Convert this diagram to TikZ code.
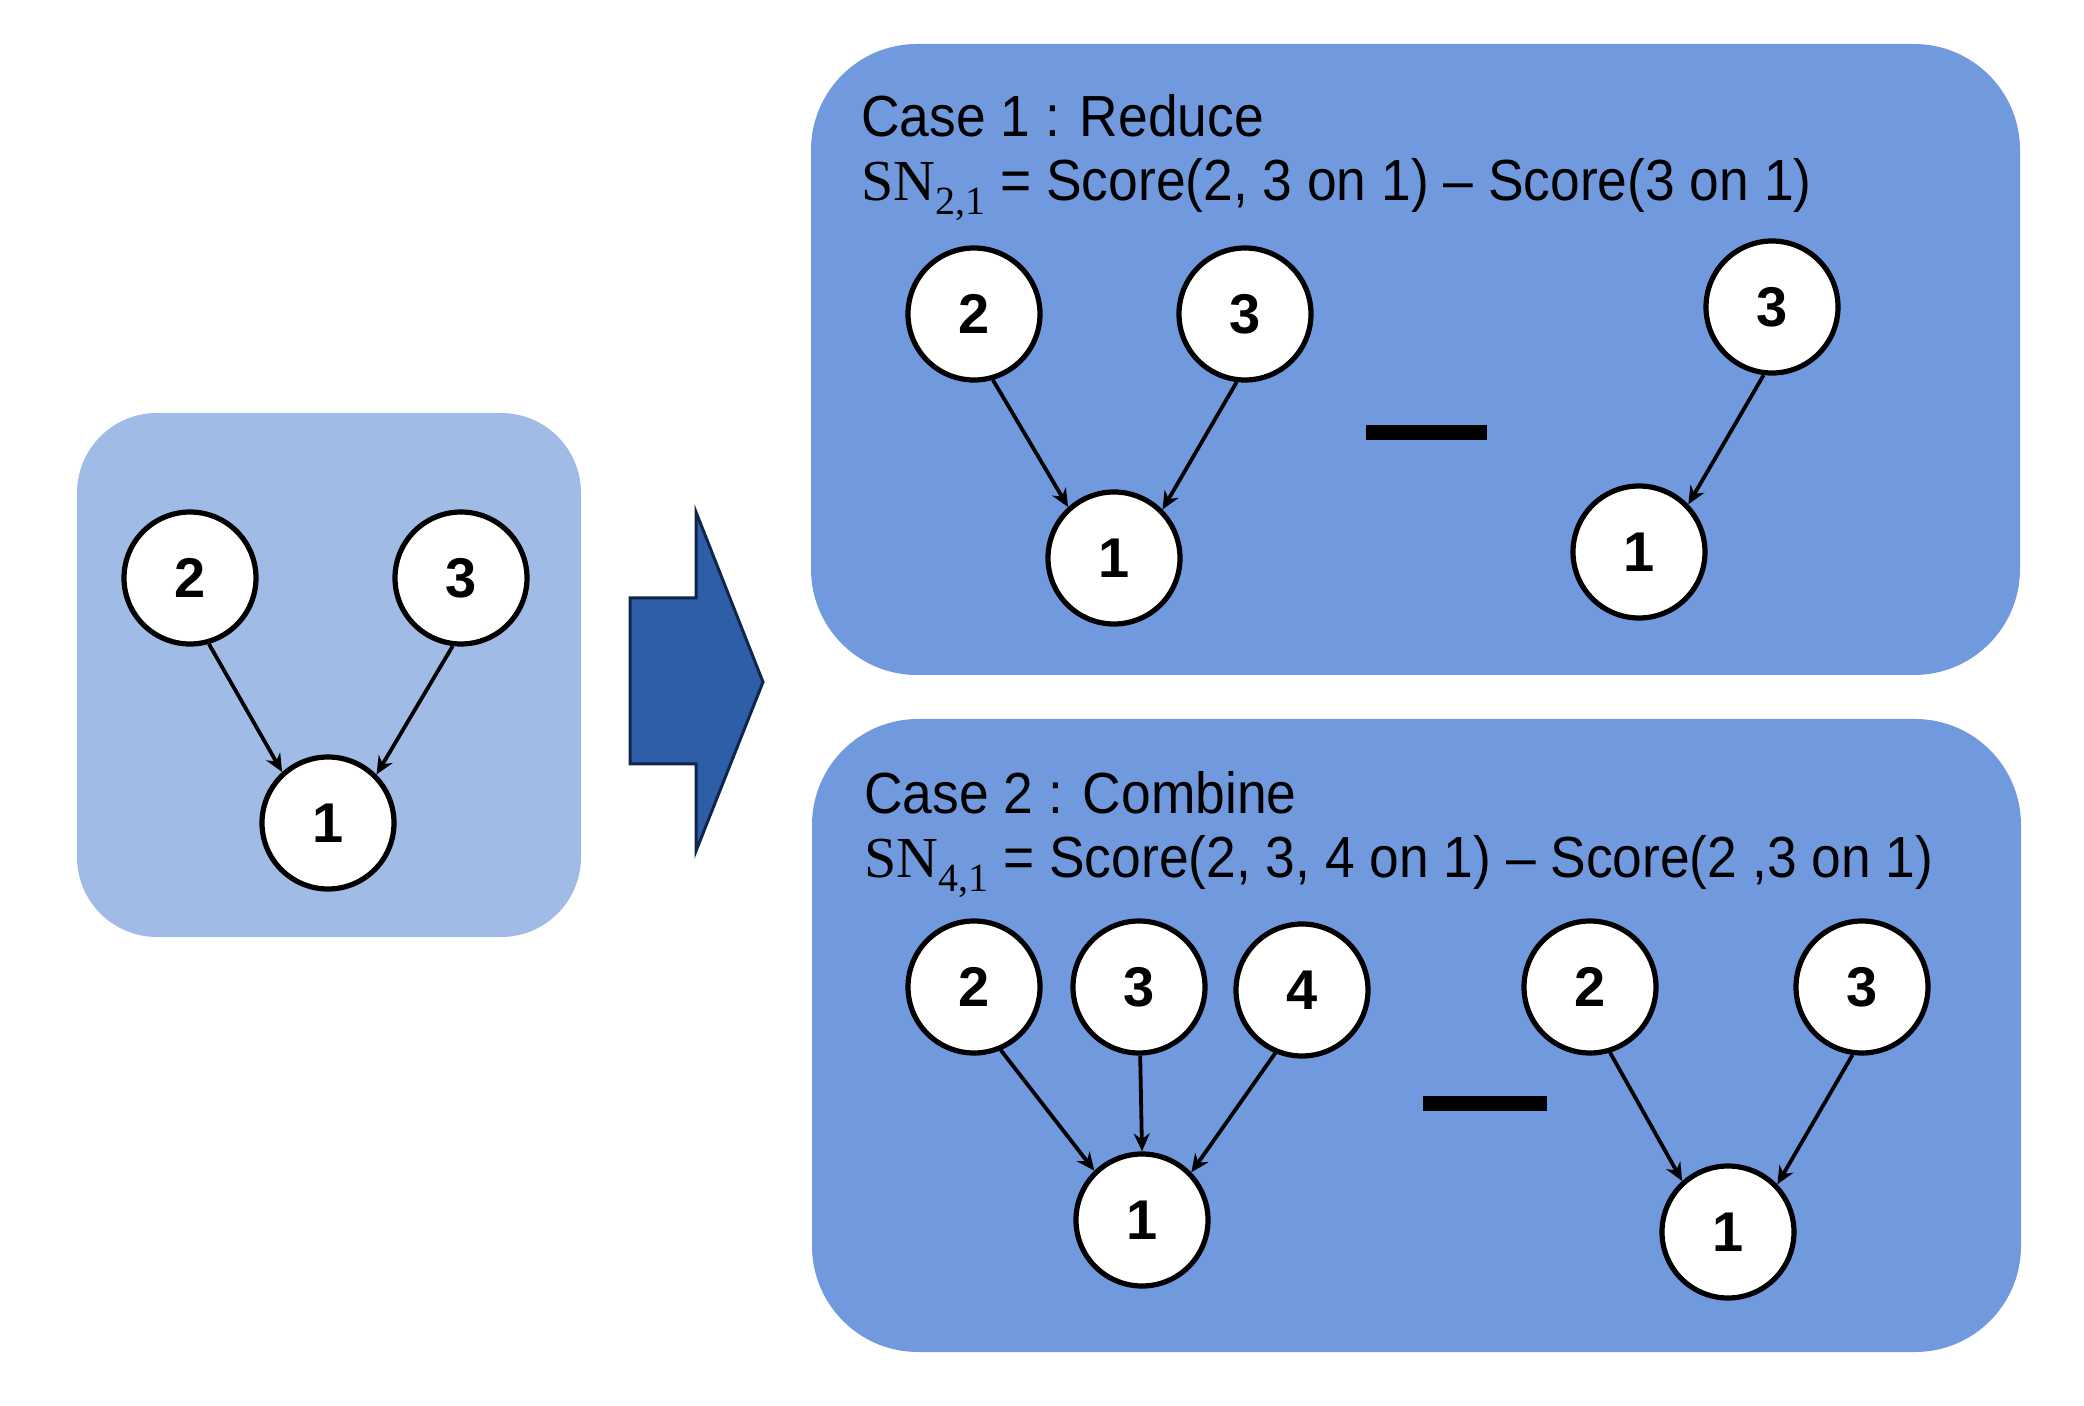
\documentclass[tikz,border=0pt]{standalone}
\usepackage{fontspec}
\setmainfont{Liberation Sans}
\newfontfamily\casefont{Liberation Sans}[FakeStretch=0.92, Ligatures=TeX]
\newfontfamily\snfont{Liberation Serif}
\usetikzlibrary{arrows.meta}
\definecolor{paleblue}{RGB}{160,187,230}
\definecolor{caseblue}{RGB}{112,154,221}
\definecolor{arrowblue}{RGB}{47,94,168}
\definecolor{arrowedge}{RGB}{16,37,74}
\newcommand{\SNsub}[1]{{\snfont SN\raisebox{-7pt}{\fontsize{20}{20}\selectfont #1}}}
\tikzset{
  var/.style={circle, draw, fill=white, line width=2.6pt, minimum size=66pt,
    inner sep=0pt, font=\fontsize{28}{28}\selectfont\bfseries},
  edge/.style={line width=1.9pt, -{Stealth[length=9pt,width=8pt]}},
  casetext/.style={anchor=base west, inner sep=0pt,
    font=\casefont\fontsize{29}{29}\selectfont},
  minusbar/.style={fill=black},
}
\begin{document}
\begin{tikzpicture}[x=0.5pt, y=-0.5pt]
\useasboundingbox (0,0) rectangle (2084,1406);
%
% boxes
\fill[paleblue, rounded corners=40pt] (77,413) rectangle (581,937);
\fill[caseblue, rounded corners=53pt] (811,44) rectangle (2020,675);
\fill[caseblue, rounded corners=53pt] (812,719) rectangle (2021,1352);
%
% big arrow
\draw[fill=arrowblue, draw=arrowedge, line width=1.5pt]
(630,598) -- (696,598) -- (696,512) -- (763,682) -- (696,851)
-- (696,764) -- (630,764) -- cycle;
%
% left graph
\node[var] (l2) at (190,578) {2};
\node[var] (l3) at (461,578) {3};
\node[var] (l1) at (328,823) {1};
\draw[edge] (l2.-74) -- (l1.132);
\draw[edge] (l3.-97) -- (l1.45);
%
% case 1
\node[casetext] (c1) at (861,137) {Case 1 : Reduce};
\node[casetext] (f1) at (861,201)
{\SNsub{2,1} = Score(2, 3 on 1) \textendash{} Score(3 on 1)};
%
\node[var] (a2) at (974,314) {2};
\node[var] (a3) at (1245,314) {3};
\node[var] (a1) at (1114,558) {1};
\draw[edge] (a2.-74) -- (a1.132);
\draw[edge] (a3.-97) -- (a1.45);
\fill[minusbar] (1366,425) rectangle (1487,440);
\node[var] (b3) at (1772,307) {3};
\node[var] (b1) at (1639,552) {1};
\draw[edge] (b3.-97) -- (b1.44);
%
% case 2
\node[casetext] (c2) at (864,813) {Case 2 : Combine};
\node[casetext] (f2) at (864,877)
{\SNsub{4,1} = Score(2, 3, 4 on 1) \textendash{} Score(2 ,3 on 1)};
%
\node[var] (d2) at (974,987) {2};
\node[var] (d3) at (1139,987) {3};
\node[var] (d4) at (1302,990) {4};
\node[var] (d1) at (1142,1220) {1};
\draw[edge] (d2.-67) -- (d1.134);
\draw[edge] (d3.-89) -- (d1.90);
\draw[edge] (d4.-113) -- (d1.44);
\fill[minusbar] (1423,1096) rectangle (1547,1111);
\node[var] (e2) at (1590,987) {2};
\node[var] (e3) at (1862,987) {3};
\node[var] (e1) at (1728,1232) {1};
\draw[edge] (e2.-73) -- (e1.132);
\draw[edge] (e3.-98) -- (e1.44);
%
\end{tikzpicture}
\end{document}
